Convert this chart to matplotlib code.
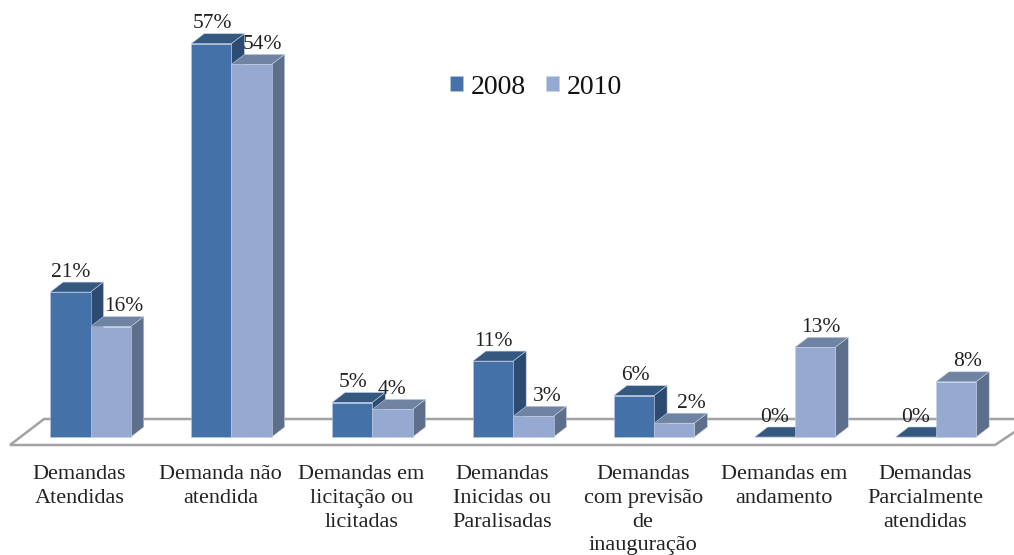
import matplotlib
matplotlib.use('Agg')
import matplotlib.pyplot as plt
from matplotlib.patches import Polygon

categories = ['Demandas\nAtendidas', 'Demanda não\natendida', 'Demandas em\nlicitação ou\nlicitadas',
              'Demandas\nInicidas ou\nParalisadas', 'Demandas\ncom previsão\nde\ninauguração',
              'Demandas em\nandamento', 'Demandas\nParcialmente\natendidas']
values_2008 = [21, 57, 5, 11, 6, 0, 0]
values_2010 = [16, 54, 4, 3, 2, 13, 8]

W, H = 1014, 555
PX_X = 140.9   # pixels per category
PX_Y = 6.9     # pixels per percent
X0, Y0 = 90.5, 437
WIDTH = 40.3 / PX_X
DX, DY = 13 / PX_X, 10 / PX_Y


def px(x, y):
    return (x - X0) / PX_X, (Y0 - y) / PX_Y


def box(ax, left, val, top_col, side_col):
    right = left + WIDTH
    ax.add_patch(Polygon([(left, val), (right, val), (right + DX, val + DY), (left + DX, val + DY)],
                         fc=top_col, ec='#c4d0e4', lw=0.4, zorder=3))
    ax.add_patch(Polygon([(right, 0), (right + DX, DY), (right + DX, val + DY), (right, val)],
                         fc=side_col, ec='#c4d0e4', lw=0.4, zorder=3))


plt.rcParams['font.family'] = ['Liberation Serif', 'DejaVu Serif']
fig = plt.figure(figsize=(W / 100, H / 100), dpi=100)
ax = fig.add_axes([0, 0, 1, 1])
ax.set_xlim(-X0 / PX_X, (W - X0) / PX_X)
ax.set_ylim((Y0 - H) / PX_Y, Y0 / PX_Y)
ax.axis('off')

# floor
ax.plot(*zip(px(1014, 419), px(44, 419), px(10, 445), px(995, 445), px(1016, 431)),
        color='#a3a3a3', lw=1.8, zorder=1, solid_joinstyle='miter')

xs = list(range(len(categories)))
b1 = ax.bar([x - WIDTH for x in xs], values_2008, WIDTH, align='edge', color='#4571a9',
            edgecolor='#b9c8df', linewidth=0.4, zorder=4, label='2008')
b2 = ax.bar(xs, values_2010, WIDTH, align='edge', color='#95a9d1',
            edgecolor='#c4d0e4', linewidth=0.4, zorder=5, label='2010')

for x, v in zip(xs, values_2008):
    box(ax, x - WIDTH, v, '#34587f', '#2d4b71')
for x, v in zip(xs, values_2010):
    box(ax, x, v, '#6f83a3', '#5e6f8b')

# value labels sit where the original chart nudged them
nudge_2008 = [0, 1, 1, 0, 1, 0, 0]
nudge_2010 = [13, 11, 0, 14, 17, 6, 12]
for x, v, n in zip(xs, values_2008, nudge_2008):
    ax.annotate(f'{v}%', (x - WIDTH / 2, v), xytext=(n, 20 if v else 19), textcoords='offset pixels',
                ha='center', va='center', fontsize=15.5, color='#222222', zorder=6)
for x, v, n in zip(xs, values_2010, nudge_2010):
    ax.annotate(f'{v}%', (x + WIDTH / 2, v), xytext=(n, 20), textcoords='offset pixels',
                ha='center', va='center', fontsize=15.5, color='#222222', zorder=6)

for x, c in zip(xs, categories):
    ax.text(x - 11 / PX_X, px(0, 465)[1], c, ha='center', va='top', fontsize=16,
            linespacing=1.34, color='#222222')

ax.legend(handles=[b1, b2], ncols=2, frameon=False, fontsize=20, loc='center',
          bbox_to_anchor=(536 / W, 1 - 87 / H), handlelength=0.47, handleheight=0.47,
          columnspacing=0.75, handletextpad=0.25, borderpad=0, labelcolor='#111111')

fig.savefig('out.png', dpi=100)
